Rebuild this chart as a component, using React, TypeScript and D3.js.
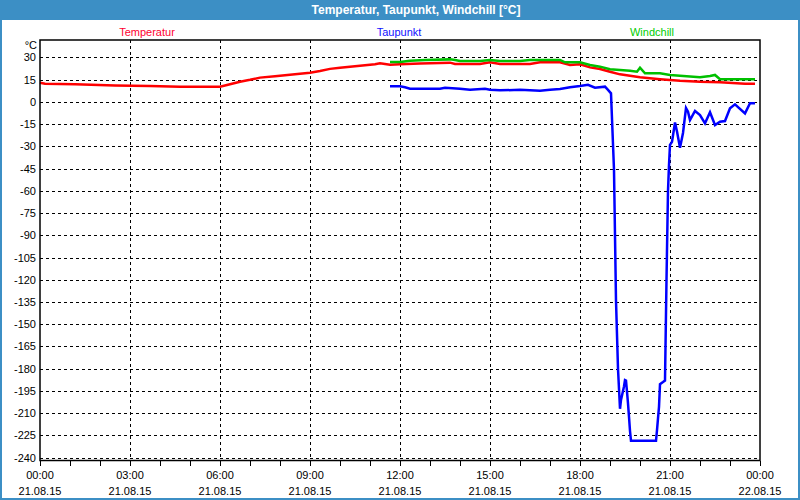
import * as d3 from "d3";

// Temperatur (red), times as HH:MM on 21.08.15
const tempTimes = [
  "00:00", "00:10", "01:10", "02:30", "03:40", "04:40", "06:00", "06:20", "06:40", "07:00",
  "07:20", "07:50", "08:20", "09:00", "09:20", "09:40", "10:00", "10:40", "11:10", "11:20",
  "11:40", "12:00", "12:40", "13:40", "13:50", "14:40", "15:00", "15:20", "16:20", "16:40",
  "17:20", "17:40", "18:00", "18:20", "18:40", "19:00", "19:20", "20:00", "20:40", "21:20",
  "22:00", "22:40", "23:30", "23:50",
];
const tempValues = [
  12.9, 12.2, 11.8, 11.0, 10.6, 10.2, 10.2, 11.8, 13.5, 14.8,
  16.3, 17.2, 18.3, 19.6, 20.8, 22.2, 23.0, 24.3, 25.3, 26.0,
  25.0, 25.3, 25.8, 26.4, 25.5, 25.5, 26.6, 25.5, 25.5, 26.6,
  26.6, 24.8, 25.3, 23.2, 22.1, 20.3, 18.5, 16.5, 15.2, 14.2,
  13.5, 13.1, 12.2, 12.2,
];

// Taupunkt (blue)
const dewTimes = [
  "11:40", "12:00", "12:10", "12:20", "13:20", "13:30", "14:00", "14:20", "14:50", "15:00",
  "15:20", "16:00", "16:40", "17:00", "17:20", "17:40", "18:00", "18:16", "18:30", "18:50",
  "18:56", "19:02", "19:05", "19:08", "19:12", "19:16", "19:20", "19:22", "19:28", "19:30",
  "19:32", "19:34", "19:36", "19:38", "19:40", "19:42", "20:32", "20:34", "20:36", "20:38",
  "20:40", "20:46", "20:50", "20:53", "20:56", "20:58", "21:00", "21:04", "21:10", "21:14",
  "21:20", "21:26", "21:32", "21:36", "21:40", "21:50", "22:00", "22:10", "22:20", "22:30",
  "22:40", "22:50", "23:00", "23:10", "23:30", "23:40", "23:50",
];
const dewValues = [
  10.4, 10.4, 9.8, 8.8, 8.8, 9.5, 8.8, 8.1, 8.8, 8.1,
  7.7, 8.1, 7.5, 8.1, 8.6, 9.8, 10.6, 11.5, 9.5, 10.2,
  8.0, 5.7, -20, -46, -134, -180, -207, -201, -192, -187.7,
  -188, -195.5, -203.4, -212.4, -222, -228.6, -228.6, -221.4, -213.5, -205.7,
  -190.4, -189, -188, -120, -60, -42.6, -29, -27, -14, -20,
  -31, -21, -4.2, -6.7, -12.3, -6.2, -8.9, -14.5, -7.1, -15.7,
  -13.4, -13, -4.4, -1.7, -7.8, -1.0, -1.0,
];

// Windchill (green)
const chillTimes = [
  "11:40", "12:00", "12:20", "12:50", "13:40", "13:50", "14:00", "14:40", "15:00", "15:20",
  "16:00", "16:20", "17:20", "17:30", "18:00", "18:20", "18:40", "19:00", "19:40", "19:54",
  "20:00", "20:10", "20:40", "21:00", "22:00", "22:20", "22:30", "22:40", "23:50",
];
const chillValues = [
  26.8, 26.8, 27.7, 28.2, 28.6, 28.2, 27.5, 27.5, 28.2, 27.5,
  27.5, 28.2, 28.2, 26.6, 26.6, 24.8, 23.7, 21.9, 21.0, 20.3,
  23.0, 19.2, 19.2, 18.1, 16.5, 17.4, 18.1, 15.2, 15.2,
];

const yTicks = d3.range(30, -241, -15);
const xTickHours = [0, 3, 6, 9, 12, 15, 18, 21, 24];
const xTimeLabels = ["00:00", "03:00", "06:00", "09:00", "12:00", "15:00", "18:00", "21:00", "00:00"];
const xDateLabels = ["21.08.15", "21.08.15", "21.08.15", "21.08.15", "21.08.15", "21.08.15", "21.08.15", "21.08.15", "22.08.15"];

const seriesNames = ["Temperatur", "Taupunkt", "Windchill"];
const seriesColors = ["#ff0000", "#0000ff", "#00c000"];
const legendColors = ["#ff0030", "#1010ff", "#00cc00"];

const W = 800;
const H = 500;
const left = 40;
const right = 760;
const top = 40;
const bottom = 460.5;
const font = "'Liberation Sans', Arial, sans-serif";

const toHour = (t: string) => {
  const [h, m] = t.split(":").map(Number);
  return h + m / 60;
};

export default function App() {
  const x = d3.scaleLinear().domain([0, 24]).range([left, right]);
  const y = d3.scaleLinear().domain([-240, 30]).range([457.7, 57.3]);

  const line = d3
    .line<[number, number]>()
    .x((d) => x(d[0]))
    .y((d) => y(d[1]));

  const series = [
    tempTimes.map((t, i) => [toHour(t), tempValues[i]] as [number, number]),
    dewTimes.map((t, i) => [toHour(t), dewValues[i]] as [number, number]),
    chillTimes.map((t, i) => [toHour(t), chillValues[i]] as [number, number]),
  ];
  const legendX = [147, 399, 652];
  const hourTicks = d3.range(0, 25);

  return (
    <svg
      width={W}
      height={H}
      style={{ position: "absolute", left: 0, top: 0, display: "block" }}
      fontFamily={font}
    >
      <rect x={0} y={0} width={W} height={H} fill="#3c8fc5" />
      <rect x={2} y={20} width={W - 4} height={H - 22} fill="#ffffff" />
      <text x={416} y={13.5} textAnchor="middle" fill="#ffffff" fontWeight="bold" fontSize={12}>
        Temperatur, Taupunkt, Windchill [°C]
      </text>

      {seriesNames.map((n, i) => (
        <text key={n} x={legendX[i]} y={35.5} textAnchor="middle" fontSize={11} fill={legendColors[i]}>
          {n}
        </text>
      ))}

      {/* grid */}
      <g stroke="#000" strokeWidth={1} strokeDasharray="3,3" shapeRendering="crispEdges">
        {yTicks.map((v) => (
          <line key={v} x1={left} x2={right} y1={Math.round(y(v)) + 0.5} y2={Math.round(y(v)) + 0.5} />
        ))}
        {xTickHours.slice(1, -1).map((h) => (
          <line key={h} x1={Math.round(x(h)) + 0.5} x2={Math.round(x(h)) + 0.5} y1={top} y2={bottom} />
        ))}
      </g>

      {/* y labels */}
      <g fontSize={11} fill="#000" textAnchor="end">
        <text x={37} y={49}>°C</text>
        {yTicks.map((v) => (
          <text key={v} x={36} y={y(v) + 4}>
            {v}
          </text>
        ))}
      </g>

      {/* x ticks + labels */}
      <g stroke="#000" strokeWidth={1} shapeRendering="crispEdges">
        {hourTicks.map((h) => (
          <line key={h} x1={Math.round(x(h)) + 0.5} x2={Math.round(x(h)) + 0.5} y1={bottom} y2={bottom + 5} />
        ))}
      </g>
      <g fontSize={11} fill="#000" textAnchor="middle">
        {xTickHours.map((h, i) => (
          <g key={i}>
            <text x={x(h)} y={479}>{xTimeLabels[i]}</text>
            <text x={x(h)} y={494.5}>{xDateLabels[i]}</text>
          </g>
        ))}
      </g>

      {/* series */}
      {series.map((s, i) => (
        <path
          key={i}
          d={line(s) ?? ""}
          fill="none"
          stroke={seriesColors[i]}
          strokeWidth={2.5}
          strokeLinejoin="miter"
        />
      ))}

      {/* frame */}
      <rect
        x={left}
        y={top}
        width={right - left}
        height={bottom - top}
        fill="none"
        stroke="#000"
        strokeWidth={1.5}
      />
    </svg>
  );
}
